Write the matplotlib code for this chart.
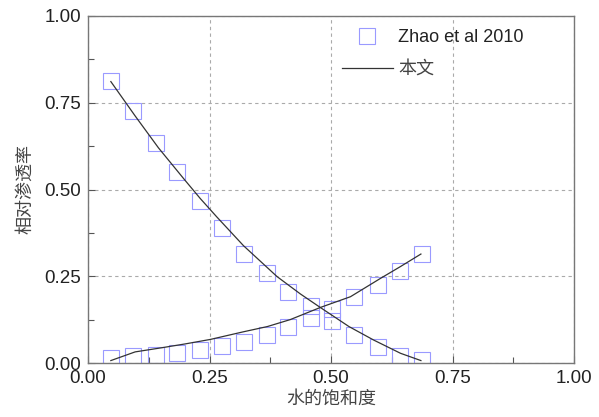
import matplotlib
matplotlib.use("Agg")
import matplotlib.pyplot as plt
from matplotlib.ticker import MultipleLocator, FormatStrFormatter

plt.rcParams['font.family'] = ['Liberation Sans', 'Noto Sans CJK SC', 'DejaVu Sans']

# Experimental points (Zhao et al 2010)
sw_exp = [0.047, 0.093, 0.140, 0.184, 0.231, 0.276, 0.322, 0.369, 0.412,
          0.458, 0.503, 0.548, 0.596, 0.641, 0.687]
kr_nw_exp = [0.813, 0.726, 0.635, 0.551, 0.467, 0.389, 0.314, 0.259, 0.205,
             0.164, 0.121, 0.080, 0.046, 0.020, 0.009]
kr_w_exp = [0.015, 0.020, 0.022, 0.029, 0.038, 0.048, 0.061, 0.081, 0.105,
            0.129, 0.156, 0.191, 0.225, 0.265, 0.314]

# Model curves (本文)
sw_nw_model = [0.047, 0.097, 0.145, 0.197, 0.231, 0.265, 0.320, 0.389, 0.437,
               0.478, 0.537, 0.588, 0.643, 0.685]
kr_nw_model = [0.811, 0.712, 0.620, 0.531, 0.474, 0.421, 0.338, 0.249, 0.199,
               0.160, 0.105, 0.066, 0.028, 0.007]
sw_w_model = [0.047, 0.097, 0.152, 0.200, 0.252, 0.320, 0.369, 0.416, 0.478,
              0.540, 0.602, 0.643, 0.685]
kr_w_model = [0.007, 0.032, 0.044, 0.055, 0.068, 0.090, 0.105, 0.125, 0.160,
              0.191, 0.244, 0.278, 0.314]

x_label = "水的饱和度"
y_label = "相对渗透率"
exp_label = "Zhao et al 2010"
model_label = "本文"

fig = plt.figure(figsize=(5.99, 4.17), dpi=100)
ax = fig.add_axes([88 / 599, 1 - 363 / 417, 486 / 599, 347 / 417])

marker_color = "#9a9aff"
line_color = "#333333"

ax.plot(sw_exp, kr_nw_exp, linestyle="none", marker="s", markersize=11,
        markerfacecolor="none", markeredgecolor=marker_color,
        markeredgewidth=0.8, label=exp_label)
ax.plot(sw_exp, kr_w_exp, linestyle="none", marker="s", markersize=11,
        markerfacecolor="none", markeredgecolor=marker_color,
        markeredgewidth=0.8)
ax.plot(sw_nw_model, kr_nw_model, color=line_color, linewidth=0.9,
        label=model_label)
ax.plot(sw_w_model, kr_w_model, color=line_color, linewidth=0.9)

ax.set_xlim(0, 1)
ax.set_ylim(0, 1)
ax.xaxis.set_major_locator(MultipleLocator(0.25))
ax.yaxis.set_major_locator(MultipleLocator(0.25))
ax.xaxis.set_minor_locator(MultipleLocator(0.125))
ax.yaxis.set_minor_locator(MultipleLocator(0.125))
ax.xaxis.set_major_formatter(FormatStrFormatter("%.2f"))
ax.yaxis.set_major_formatter(FormatStrFormatter("%.2f"))

ax.grid(True, which="major", color="#aaaaaa", linestyle=(0, (3, 3)),
        linewidth=0.8)
ax.set_axisbelow(True)

for s in ax.spines.values():
    s.set_color("#777777")
    s.set_linewidth(1.0)

ax.tick_params(which="both", direction="in", color="#555555",
               top=False, right=False)
ax.tick_params(which="major", length=5, width=0.8, labelsize=13.5,
               labelcolor="#222222", pad=5)
ax.tick_params(which="minor", length=4, width=0.8)

ax.set_xlabel(x_label, fontsize=13, color="#444444", labelpad=3)
ax.set_ylabel(y_label, fontsize=13, color="#444444", labelpad=7)

leg = ax.legend(loc="upper left", bbox_to_anchor=(0.523, 0.962),
                frameon=False, fontsize=13, handlelength=2.8,
                handletextpad=0.3, labelspacing=0.85, borderpad=0,
                borderaxespad=0)
leg.get_texts()[0].set_color("#222222")
leg.get_texts()[1].set_color("#444444")

fig.savefig("out.png", dpi=100)
